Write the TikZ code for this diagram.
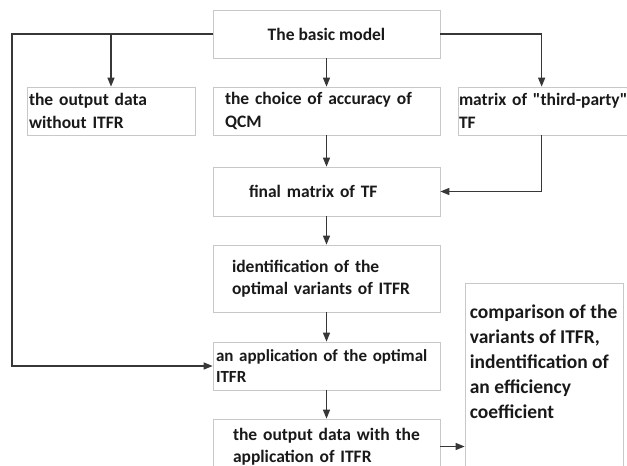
\documentclass[tikz,border=0pt]{standalone}
\usepackage{fontspec}
\setmainfont{Carlito}
\usetikzlibrary{arrows.meta}

\definecolor{boxgray}{RGB}{200,200,200}
\definecolor{linegray}{RGB}{55,55,55}

\tikzset{
  blk/.style={draw=boxgray, line width=0.7pt, text=black!90, align=left,
    font=\bfseries\fontsize{17.5}{22.5}\selectfont, inner ysep=0pt,
    minimum height=48pt},
  link/.style={draw=linegray, line width=1.3pt,
    -{Triangle[length=9pt,width=7pt]}},
}

\begin{document}
\begin{tikzpicture}[x=1pt,y=-1pt]
  \useasboundingbox (0,0) rectangle (627,466);
  \clip (0,0) rectangle (627,466);
  % Top row
  \node[blk, align=center, minimum width=227pt] (basic) at (326.5,34) {The basic model};
  \node[blk, text width=164pt, inner xsep=2pt] (nodata) at (111,111) {the output data\\without ITFR};
  \node[blk, text width=203pt, inner xsep=12pt] (accuracy) at (326.5,111) {the choice of accuracy of\\QCM};
  \node[blk, text width=200pt, inner xsep=1pt] (thirdparty) at (559,111) {matrix of \textquotedbl third-party\textquotedbl\\TF};
  % Middle column
  \node[blk, text width=155pt, inner xsep=36pt, minimum height=49pt] (final) at (326.5,191.5) {final matrix of TF};
  \node[blk, text width=189pt, inner xsep=19pt, minimum height=67pt] (ident) at (326.5,278.5) {identification of the\\optimal variants of ITFR};
  \node[blk, text width=221pt, inner xsep=3pt, font=\bfseries\fontsize{17}{21}\selectfont] (apply) at (326.5,366) {\mbox{an application of the optimal}\\ITFR};
  \node[blk, text width=187pt, inner xsep=20pt, minimum height=55pt] (withdata) at (326.5,446.5) {the output data with the\\application of ITFR};
  % Side box with its text on top
  \node[blk, minimum width=158pt, minimum height=207pt] (compare) at (544,386.5) {};
  \node[anchor=north west, align=left, inner sep=0pt, text=black!90,
    font=\bfseries\fontsize{19.5}{25}\selectfont] (comparetxt)
    at ([xshift=5pt,yshift=-22pt]compare.north west)
    {comparison of the\\variants of ITFR,\\indentification of\\an efficiency\\coefficient};
  % Connectors
  \coordinate (rail) at (12,366);
  \draw[link] (basic.west) -| (rail) -- (apply.west);
  \draw[link] (nodata.north |- basic.west) -- (nodata.north);
  \draw[link] (basic.south) -- (accuracy.north);
  \draw[link] (basic.east) -| ([xshift=84pt]thirdparty.north west);
  \draw[link] ([xshift=84pt]thirdparty.south west) |- (final.east);
  \draw[link] (accuracy.south) -- (final.north);
  \draw[link] (final.south) -- (ident.north);
  \draw[link] (ident.south) -- (apply.north);
  \draw[link] (apply.south) -- (withdata.north);
  \draw[link] (withdata.east) -- (withdata.east -| compare.west);
\end{tikzpicture}
\end{document}
